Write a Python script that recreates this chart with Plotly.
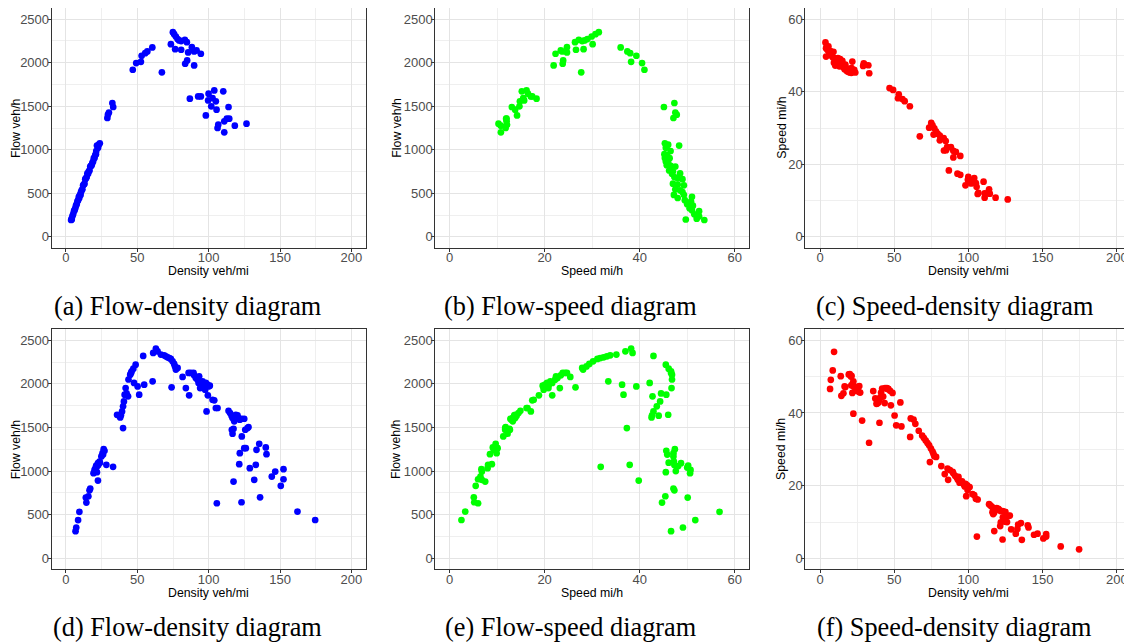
import plotly.graph_objects as go

# ---------------- data (row 1: panels a-c) ----------------
density_1 = [3.6, 4.0, 4.0, 4.5, 5.0, 5.6, 6.0, 6.5, 7.0, 7.5, 8.0, 8.5, 9.0, 9.3, 9.8, 10.2, 10.5, 11.0, 11.5, 12.0,
             12.5, 13.0, 13.5, 14.0, 14.5, 15.0, 15.5, 16.0, 16.5, 17.0, 17.5, 18.0, 18.5, 19.0, 19.5, 20.0, 20.5, 21.0,
             21.2, 21.7, 22.5, 23.0, 23.7,
             29.0, 29.4, 30.1, 32.5, 33.1,
             46.8, 49.2, 52.5, 53.0, 55.5, 57.0, 60.5,
             67.2, 73.5, 74.9, 75.8, 77.0, 78.2, 79.3, 80.7, 76.5, 80.7, 83.3, 84.7, 85.6, 84.9, 83.5, 88.2, 89.8, 91.5,
             94.5, 89.8,
             86.8, 92.6, 94.5, 99.9, 99.6, 103.9, 102.7, 101.8, 105.0, 105.5, 98.0, 110.2, 113.9, 112.7, 110.9, 114.4,
             106.2, 106.7, 118.3, 110.9, 126.5]
speed_1 = [53.6, 52.0, 49.7, 52.5, 51.5, 52.5, 51.0, 50.5, 51.2, 50.0, 50.8, 49.5, 51.0, 48.0, 49.3, 47.2, 49.0, 48.5,
           47.5, 49.3, 48.0, 47.0, 49.0, 48.0, 47.3, 48.5, 46.8, 47.0, 46.2, 47.5, 46.5, 45.7, 46.0, 45.5, 46.3, 45.3,
           45.8, 45.2, 46.5, 48.3, 45.5, 46.0, 45.3,
           47.1, 47.8, 47.5, 47.3, 45.1,
           41.0, 40.5, 38.2, 39.3, 38.0, 37.4, 36.0,
           27.7, 30.1, 31.4, 30.7, 29.9, 29.0, 28.4, 27.9, 28.2, 26.6, 27.2, 26.4, 24.7, 23.9, 23.8, 24.7, 23.7, 23.4,
           22.3, 21.9,
           18.3, 17.4, 17.1, 16.5, 15.7, 16.2, 15.5, 14.7, 14.8, 13.8, 14.2, 15.2, 13.1, 12.0, 12.0, 11.9, 11.8, 12.1,
           10.8, 10.8, 10.3]
flow_1 = [193, 208, 199, 236, 258, 294, 306, 328, 358, 375, 406, 421, 459, 446, 483, 481, 515, 534, 546, 592,
          600, 611, 662, 672, 686, 728, 725, 752, 762, 808, 814, 823, 851, 865, 903, 906, 939, 949, 986, 1048,
          1024, 1058, 1074,
          1365, 1403, 1428, 1537, 1491,
          1919, 1996, 2010, 2080, 2110, 2130, 2175,
          1889, 2213, 2351, 2328, 2301, 2271, 2256, 2248, 2156, 2149, 2263, 2236, 2118, 2026, 1988, 2179, 2129, 2141,
          2103, 1969,
          1587, 1613, 1613, 1644, 1567, 1682, 1594, 1499, 1556, 1460, 1395, 1671, 1491, 1357, 1327, 1357, 1250, 1288,
          1277, 1200, 1300]

# ---------------- data (row 2: panels d-f) ----------------
density_2 = [6.7, 7.2, 8.5, 9.4, 13.9, 14.3, 15.7, 16.5, 17.0,
             19.3, 20.0, 20.8, 21.2, 21.0, 21.7, 22.0, 22.4, 22.6, 22.4, 23.5, 23.8, 24.8, 25.6, 26.0, 26.4, 27.0,
             28.3, 33.0,
             35.8, 37.2, 38.0, 38.5, 39.3, 40.0, 40.6, 40.0, 41.1, 41.8, 42.5, 43.5, 43.8, 45.0, 45.6, 46.0, 47.2,
             48.8, 47.7, 50.2, 51.3, 54.1, 54.8,
             60.7, 61.1, 63.0, 64.2, 66.5, 68.8, 70.0, 71.2, 72.4, 73.5, 74.0, 74.7, 75.8, 76.4, 77.0, 78.2, 81.7,
             84.0, 85.9, 86.3, 87.5, 89.4, 89.8, 91.0, 92.2, 92.9, 93.3, 94.0, 95.0, 95.7, 96.9, 97.5, 98.0, 99.2,
             99.9, 100.8, 99.4, 98.5, 102.7, 103.9, 105.0, 106.2, 105.7,
             113.9, 115.0, 116.0, 116.7, 117.9, 119.0, 120.2, 120.9, 121.8, 123.2, 124.9, 125.6, 127.2, 127.9,
             116.2, 116.7, 117.4, 123.2, 117.4, 121.8, 121.4, 123.0, 124.9, 126.0, 128.8, 131.9, 133.0, 133.5,
             135.4, 136.0, 140.0, 140.5, 144.2, 146.6, 150.5, 152.4, 152.4, 162.2, 174.6]
flow_2 = [312, 354, 439, 534, 697, 639, 712, 780, 800,
          976, 1014, 1041, 1064, 1000, 988, 1058, 1091, 1070, 892, 1110, 1097, 1168, 1206, 1190, 1252, 1232,
          1072, 1049,
          1646, 1635, 1615, 1640, 1684, 1742, 1799, 1493, 1876, 1952, 1890, 1857, 2050, 2105, 2125, 2144, 2174,
          2220, 2010, 1971, 1876, 2320, 1990,
          2029, 2354, 2404, 2373, 2335, 2327, 2315, 2304, 2295, 2285, 1960, 2258, 2228, 2200, 2163, 2182, 2079,
          1952, 2125, 1868, 2125, 2125, 2098, 2067, 2048, 2010, 2086, 1952, 1990, 2029, 1971, 1933, 2010, 1990,
          1971, 1979, 1868, 1684, 1818, 1811, 1723, 1723, 632,
          1692, 1665, 1635, 1608, 1570, 1646, 1638, 1608, 1589, 1600, 1600, 1474, 1493, 1505,
          1474, 1428, 1485, 1397, 880, 1206, 1080, 643, 1263, 1263, 1034, 900, 1072, 1244,
          1313, 700, 1271, 1194, 938, 995, 831, 1022, 907, 536, 440]
speed_2 = [46.6, 49.1, 51.7, 56.8, 50.1, 44.7, 45.4, 47.3, 47.1,
           50.6, 50.7, 50.0, 50.2, 47.6, 45.5, 48.1, 48.7, 47.3, 39.8, 47.2, 46.1, 47.1, 47.1, 45.8, 47.4, 45.6,
           37.9, 31.8,
           46.0, 44.0, 42.5, 42.6, 42.9, 43.6, 44.3, 37.3, 45.6, 46.7, 44.5, 42.7, 46.8, 46.8, 46.6, 46.6, 46.1,
           45.5, 42.1, 39.3, 36.6, 42.9, 36.3,
           33.4, 38.5, 38.2, 37.0, 35.1, 33.8, 33.1, 32.4, 31.7, 31.1, 26.5, 30.2, 29.4, 28.8, 28.1, 27.9, 25.4,
           23.2, 24.7, 21.6, 24.3, 23.8, 23.4, 22.7, 22.2, 21.6, 22.4, 20.8, 20.9, 21.2, 20.3, 19.8, 20.5, 20.1,
           19.7, 19.6, 18.8, 17.1, 17.7, 17.4, 16.4, 16.2, 6.0,
           14.9, 14.5, 14.1, 13.8, 13.3, 13.8, 13.6, 13.3, 13.0, 13.0, 12.8, 11.7, 11.7, 11.8,
           12.7, 12.2, 12.6, 11.3, 7.5, 9.9, 8.9, 5.2, 10.1, 10.0, 8.0, 6.8, 8.1, 9.3,
           9.7, 5.1, 9.1, 8.5, 6.5, 6.8, 5.5, 6.7, 6.0, 3.3, 2.5]

captions = ["(a) Flow-density diagram", "(b) Flow-speed diagram", "(c) Speed-density diagram",
            "(d) Flow-density diagram", "(e) Flow-speed diagram", "(f) Speed-density diagram"]
x_titles = ["Density veh/mi", "Speed mi/h", "Density veh/mi"]
y_titles = ["Flow veh/h", "Flow veh/h", "Speed mi/h"]
colors = ["#0000FF", "#00FF00", "#FF0000"]

# ---------------- layout helpers ----------------
# The page body has an 8px margin, so the figure is drawn 8px in from the window corner.
OFF = 8
W, H = 1132 - OFF, 644 - OFF
def fx(p):
    return (p - OFF) / W
def fy(p):
    return 1 - (p - OFF) / H

col_px = [(51.7, 365.7), (435.3, 749.0), (805.3, 1131.6)]
row_px = [(8.3, 247.7), (329.3, 569.3)]
cap_x = [187.5, 570.5, 954.5]
cap_y = [306.0, 627.5]
ytitle_x = [13.3, 396.7, 781.7]

rows_data = [(density_1, speed_1, flow_1), (density_2, speed_2, flow_2)]

fig = go.Figure()
annotations = []
tick_font = dict(family="Liberation Sans, Arial, sans-serif", size=13, color="#4d4d4d")
title_font = dict(family="Liberation Sans, Arial, sans-serif", size=12.3, color="#000000")

for r in range(2):
    dens, spd, flw = rows_data[r]
    for c in range(3):
        k = r * 3 + c + 1
        xa = "x" if k == 1 else f"x{k}"
        ya = "y" if k == 1 else f"y{k}"
        if c == 0:
            xs, ys = dens, flw
        elif c == 1:
            xs, ys = spd, flw
        else:
            xs, ys = dens, spd
        fig.add_trace(go.Scatter(x=xs, y=ys, mode="markers", xaxis=xa, yaxis=ya, showlegend=False,
                                 marker=dict(color=colors[c], size=6.7, line=dict(width=0))))
        x0, x1 = col_px[c]
        y0, y1 = row_px[r]
        if c == 1:
            xrange, xd, xm = [-3, 63], 20, 10
        else:
            xrange, xd, xm = [-10, 210], 50, 25
        if c == 2:
            yrange, yd, ym = [-3, 63], 20, 10
        else:
            yrange, yd, ym = [-125, 2625], 500, 250
        common = dict(showline=True, linecolor="#333333", linewidth=1.1, mirror=True,
                      showgrid=True, gridcolor="#e4e4e4", gridwidth=1.1,
                      ticks="outside", ticklen=3, tickcolor="#333333", tickwidth=1,
                      tickfont=tick_font, zeroline=False, fixedrange=True)
        xaxis = dict(domain=[fx(x0), min(fx(x1), 1.0)], anchor=ya, range=xrange, tick0=0, dtick=xd,
                     ticklabelstandoff=-5,
                     minor=dict(dtick=xm, tick0=0, showgrid=True, gridcolor="#efefef", gridwidth=0.7),
                     **common)
        yaxis = dict(domain=[fy(y1), fy(y0)], anchor=xa, range=yrange, tick0=0, dtick=yd,
                     ticklabelstandoff=-4,
                     minor=dict(dtick=ym, tick0=0, showgrid=True, gridcolor="#efefef", gridwidth=0.7),
                     **common)
        fig.update_layout(**{("xaxis" if k == 1 else f"xaxis{k}"): xaxis,
                             ("yaxis" if k == 1 else f"yaxis{k}"): yaxis})
        # axis titles
        annotations.append(dict(text=x_titles[c], x=fx((x0 + x1) / 2), y=fy(y1 + 23.5), xref="paper",
                                yref="paper", showarrow=False, xanchor="center", yanchor="middle",
                                font=title_font, borderpad=0))
        if c == 0:
            ytl = dict(x=0.0, xanchor="left")
        else:
            ytl = dict(x=fx(ytitle_x[c]), xanchor="center")
        annotations.append(dict(text=y_titles[c], y=fy((y0 + y1) / 2), xref="paper",
                                yref="paper", showarrow=False, yanchor="middle",
                                textangle=-90, font=title_font, borderpad=0, **ytl))
        # caption
        annotations.append(dict(text=captions[k - 1], x=fx(cap_x[c]), y=fy(cap_y[r]), xref="paper",
                                yref="paper", showarrow=False, xanchor="center", yanchor="middle",
                                font=dict(family="Liberation Serif, Times New Roman, serif", size=26.3,
                                          color="#000000")))

fig.update_layout(width=W, height=H, margin=dict(l=0, r=0, t=0, b=0),
                  paper_bgcolor="white", plot_bgcolor="white", annotations=annotations)

fig.write_html("out.html")
